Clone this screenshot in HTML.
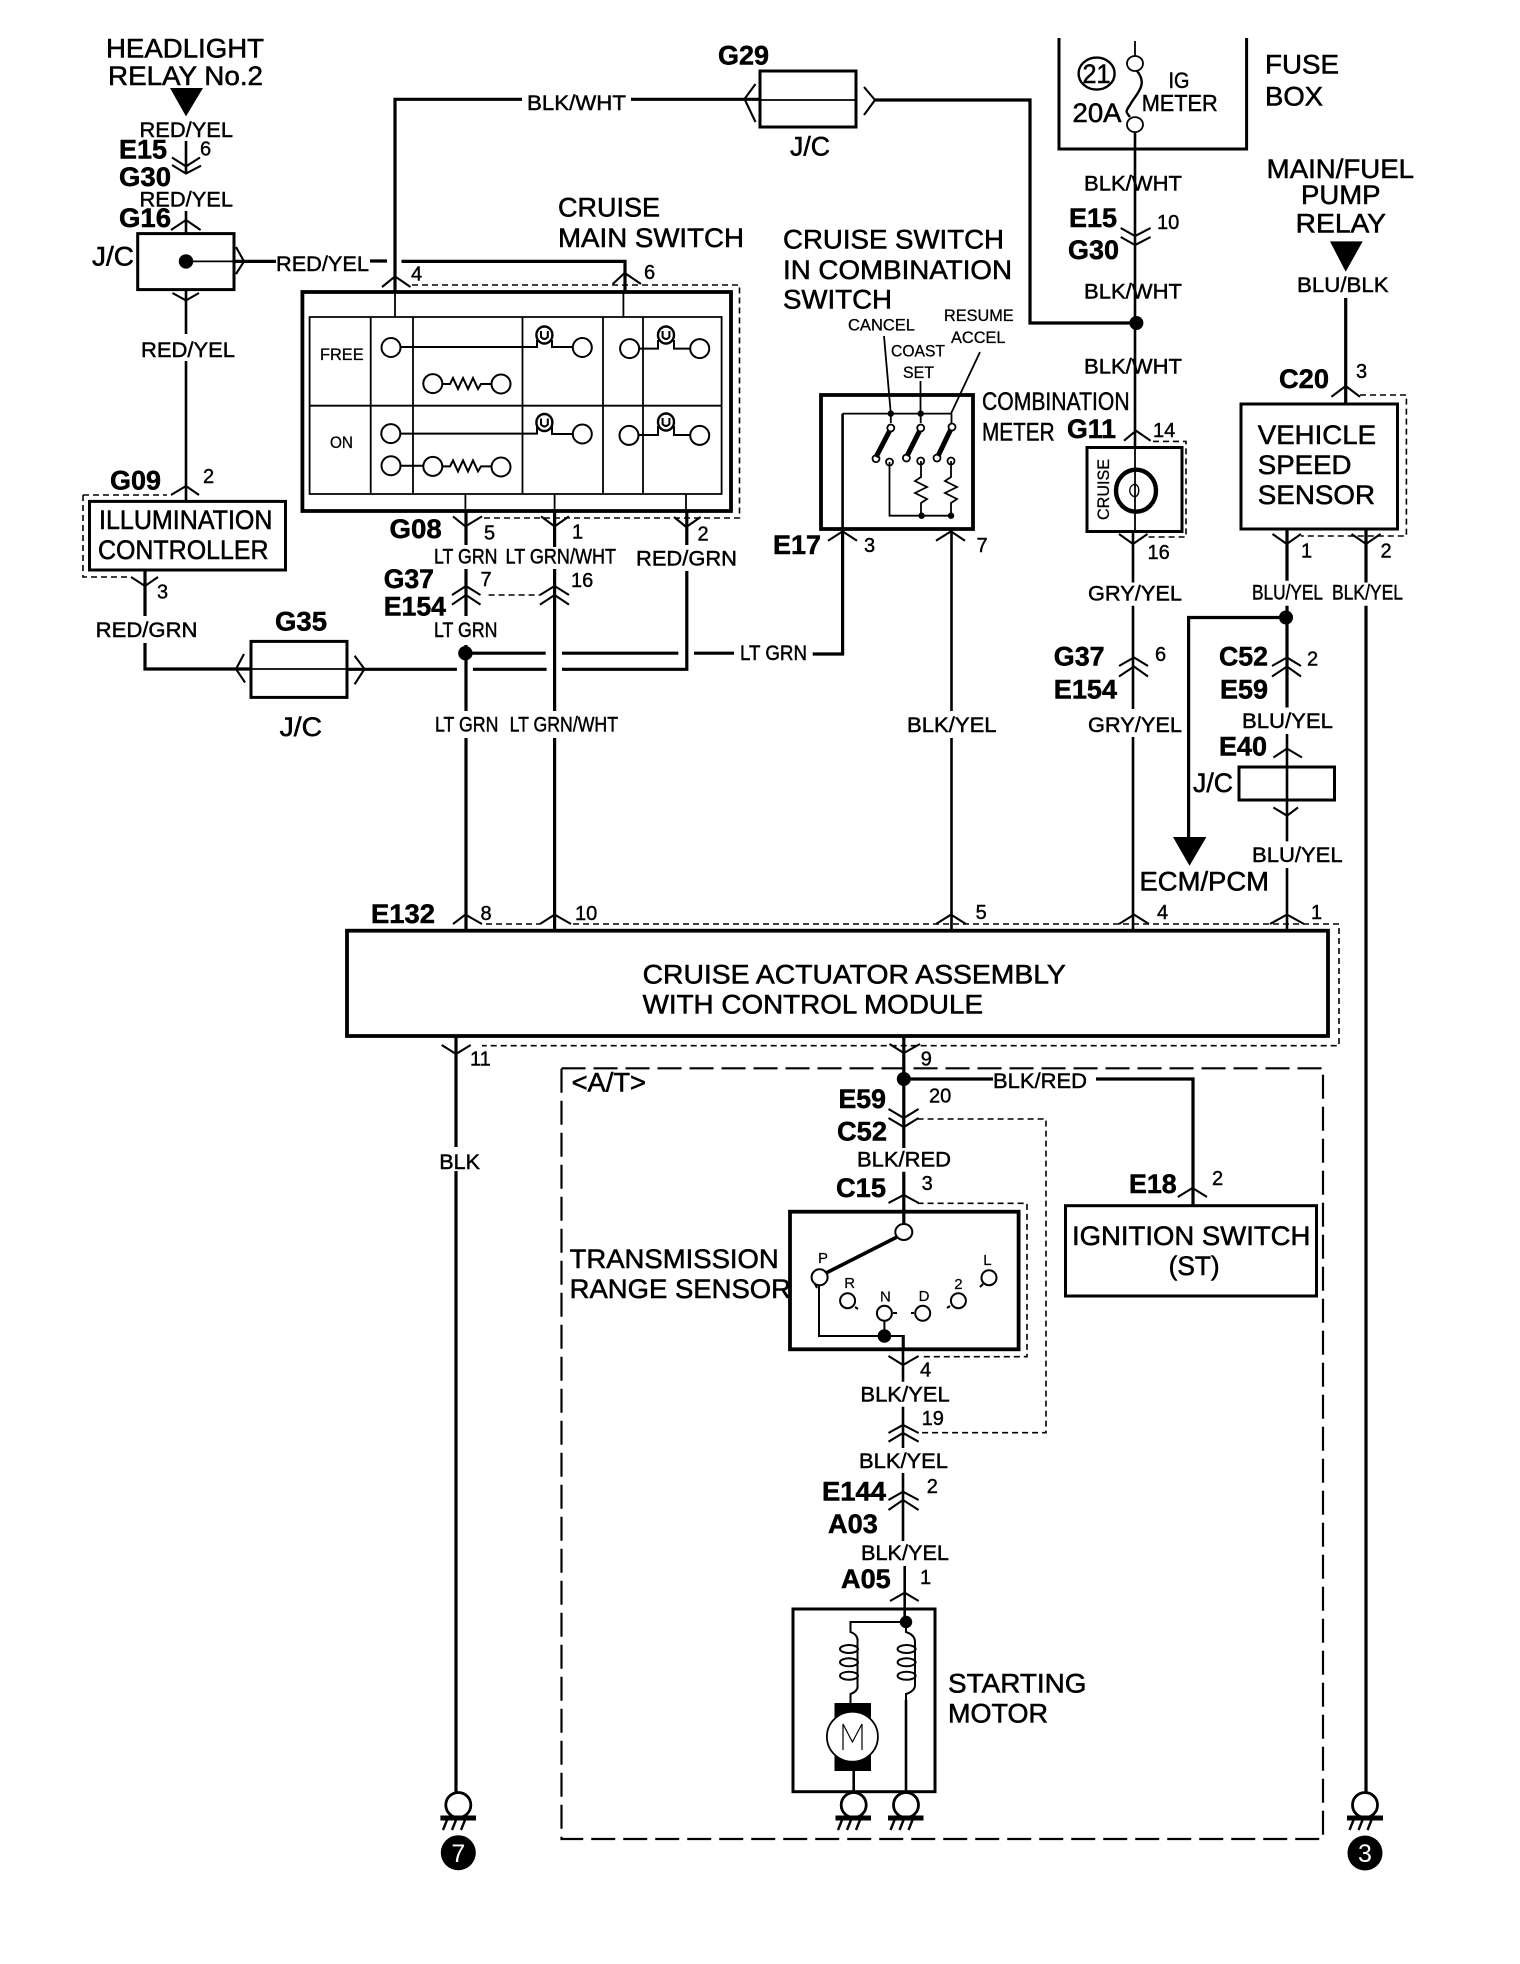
<!DOCTYPE html>
<html><head><meta charset="utf-8"><style>
html,body{margin:0;padding:0;background:#fff}
svg{display:block}
text{font-family:"Liberation Sans",sans-serif;fill:#000}
.l{font-size:27px;stroke:#000;stroke-width:.55}
.w{font-size:21px;stroke:#000;stroke-width:.45}
.b{font-size:27px;font-weight:bold;stroke:#000;stroke-width:.5}
.n{font-size:20px;stroke:#000;stroke-width:.4}
.s{font-size:17px;stroke:#000;stroke-width:.3}
.t{font-size:15px;stroke:#000;stroke-width:.2}
g{fill:none;stroke:#000}
</style></head><body>
<svg width="1520" height="1964" viewBox="0 0 1520 1964" xmlns="http://www.w3.org/2000/svg">
<rect width="1520" height="1964" fill="#fff"/>

<!-- dashed connector outlines -->
<g stroke-width="1.6" stroke-dasharray="6 4">
<path d="M412 285H739.5V518H482"/>
<path d="M83 495H167M83 495V577H131"/>
<path d="M1153 441.4H1186V537H1148"/>
<path d="M1360 395H1406.4V536H1301"/>
<path d="M486 924H540M573 924H1339V1045.7H482"/>
<path d="M488.6 595H540"/>
<path d="M917.6 1119H1046V1432.7H920"/>
<path d="M917.6 1203.3H1027V1356.7H920"/>
</g>
<g stroke-width="2.2" stroke-dasharray="24 8">
<path d="M561.5 1068.3H1323V1839H561.5Z"/>
</g>

<!-- heavy wires -->
<g stroke-width="3.2">
<path d="M395 292V99.3H522M631 99.3H760"/>
<path d="M875 100H1030V323H1136"/>
<path d="M234 261.4H276M370 261H387M401.5 261.4H625V292"/>
<path d="M466 511V545M466 569V616M466 645V711M466 738V931"/>
<path d="M554.6 511V547M554.6 569V711M554.6 738V931"/>
<path d="M686.8 511V545M686.8 571V669.3H562M546.6 669.3H473M457 669.3H347"/>
<path d="M251 669H145V643M145 570V616"/>
<path d="M466 653.2H545.7M562 653.2H678.3M694 653.2H734M812.7 654H842.6V531"/>
<path d="M1287 529V580.7M1287 605.7V707.5M1286 617.5H1188.6V840"/>
<path d="M1366 529V582.5M1366 605.7V1792"/>
<path d="M1345.7 298V404"/>
<path d="M456 1036V1147M456 1171V1792"/>
<path d="M903.8 1036V1148M903.8 1171.7V1225M903.8 1079H993M1096 1079H1193V1205"/>
</g>
<g stroke-width="2.6">
<path d="M186 141V174M186 211V234M186 290V334M186 361V501"/>
<path d="M1135 132V447M1133 531V582.5M1133 605.7V709M1133 737V931"/>
<path d="M951.5 531V711M951.5 738V931"/>
<path d="M1287 734V841.4M1287 868V931"/>
<path d="M903 1336V1381.7M903 1406.7V1448M903 1473V1541M904.7 1566V1608"/>
<path d="M842.6 413.6V531"/>
<path d="M904.7 1608V1622M853.7 1771V1793M906 1700V1793"/>
</g>

<!-- boxes -->
<g stroke-width="3">
<rect x="137.7" y="233.6" width="96.3" height="56"/>
<rect x="89.5" y="501.4" width="196" height="68.6"/>
<rect x="760" y="71" width="96" height="56"/>
<path d="M1059 38V149H1246.6V38"/>
<rect x="251" y="641.4" width="96" height="56"/>
<rect x="1087" y="447.5" width="95" height="84"/>
<rect x="1241" y="404" width="156.5" height="125"/>
<rect x="1239" y="767" width="95.5" height="33"/>
<rect x="1065.5" y="1205.7" width="251" height="90.3"/>
<rect x="793" y="1609" width="142" height="182.7"/>
</g>
<g stroke-width="3.8">
<rect x="302.4" y="292" width="428.6" height="219"/>
<rect x="821" y="395" width="152" height="134"/>
<rect x="347" y="930.7" width="981" height="105.3"/>
<rect x="790" y="1211.7" width="228.6" height="137.6"/>
</g>

<!-- thin internals -->
<g stroke-width="1.8">
<path d="M760 100H856M251 669H347M186 261.4H234"/>
<path d="M1135 41V56M1135 132V149"/>
<path d="M309.6 317H721.6V494H309.6ZM309.6 405.7H721.6M370.7 317V494M413 317V494M522.5 317V494M603 317V494M643 317V494"/>
<path d="M395 292V317M623.4 292V317M465.4 494V511M554.6 494V511M686 494V511"/>
<path d="M1135 447.5V531"/>
<path d="M842.6 413.6H951M884 336L890.8 413.6M920.5 381V413.6M980 352L951 413.6"/>
<path d="M889.5 462V515.7H951M921 461V477l-6 4 12 6-12 6 12 6-6 4V515.7M951 461V477l-6 4 12 6-12 6 12 6-6 4V515.7"/>
<path d="M890.8 413.6V423M920.7 413.6V423M951.5 413.6V423"/>
<ellipse cx="1135" cy="63.5" rx="8" ry="7.5"/>
<ellipse cx="1135" cy="124.6" rx="8" ry="7.5"/>
<path d="M1137 71C1149 85 1135 95 1130 105C1125 112 1126 112 1130 117" stroke-width="2.4"/>
<ellipse cx="1096.6" cy="73.6" rx="18" ry="16" stroke-width="2.4"/>
</g>

<!-- main switch contents -->
<g stroke-width="2">
<circle cx="391" cy="347.5" r="9.5"/><circle cx="582.3" cy="347.5" r="9.5"/>
<circle cx="629.6" cy="348.6" r="9.5"/><circle cx="699.7" cy="348.6" r="9.5"/>
<circle cx="432.8" cy="383.6" r="9.5"/><circle cx="501" cy="384" r="9.5"/>
<circle cx="390.8" cy="433.6" r="9.5"/><circle cx="582.3" cy="434" r="9.5"/>
<circle cx="629" cy="435.4" r="9.5"/><circle cx="699.7" cy="435.4" r="9.5"/>
<circle cx="391" cy="465.7" r="9.5"/><circle cx="432.8" cy="466.4" r="9.5"/><circle cx="501" cy="467" r="9.5"/>
<path d="M400.5 347H537V340M552 340V347H573M639 348.6H658V340M674 340V348.6H690"/>
<path d="M400.5 433.6H537V426M552 426V434H573M638.5 435H658V426M674 426V435H690"/>
<path d="M400.5 465.7H423.3M442.3 384H450l3-6 5 11 5-11 5 11 5-11 5 11 3-5H491.5M442.3 466.4H450l3-6 5 11 5-11 5 11 5-11 5 11 3-5H491.5"/>
<ellipse cx="544.4" cy="335" rx="8" ry="8.5" stroke-width="2.4"/><path d="M541 331v6q3.4 4 6.8 0v-6"/>
<ellipse cx="666" cy="335" rx="8" ry="8.5" stroke-width="2.4"/><path d="M662.6 331v6q3.4 4 6.8 0v-6"/>
<ellipse cx="544.4" cy="422.5" rx="8" ry="8.5" stroke-width="2.4"/><path d="M541 418.5v6q3.4 4 6.8 0v-6"/>
<ellipse cx="666" cy="422" rx="8" ry="8.5" stroke-width="2.4"/><path d="M662.6 418v6q3.4 4 6.8 0v-6"/>
</g>

<!-- combination switch contacts -->
<g stroke-width="1.8">
<circle cx="890.8" cy="428" r="3.5"/><circle cx="920.7" cy="428" r="3.5"/><circle cx="952" cy="427" r="3.5"/>
<circle cx="876" cy="458.6" r="3.5"/><circle cx="906.4" cy="458" r="3.5"/><circle cx="937" cy="458" r="3.5"/>
<circle cx="889.5" cy="462" r="3.5"/><circle cx="920.7" cy="461" r="3.5"/><circle cx="951" cy="461" r="3.5"/>
<path d="M889.5 431L876 457M919.5 431L907 456M950.5 430L938 456" stroke-width="5"/>
<ellipse cx="1136" cy="490.7" rx="20" ry="21" stroke-width="4.4"/>
<path d="M1135 484c-7 2-7 11 0 13c5-2 5-11 0-13" stroke-width="1.4"/>
</g>

<!-- transmission sensor -->
<g stroke-width="2">
<ellipse cx="903.8" cy="1232" rx="8.5" ry="8"/>
<ellipse cx="819.6" cy="1277.3" rx="8" ry="8"/>
<circle cx="847.6" cy="1300.7" r="7.5"/><circle cx="884.4" cy="1313.3" r="7.5"/><circle cx="922.7" cy="1313.3" r="7.5"/><circle cx="958.4" cy="1300.7" r="7.5"/><circle cx="989" cy="1277.7" r="7.5"/>
<path d="M897 1237L826 1273" stroke-width="3.6"/>
<path d="M819 1285V1336H903.8V1349M884.4 1321V1336M855 1307l3 2M893 1313h4M914 1313h-3M950 1306l-3 2M983 1284l-3 3M815 1284l2 4" />
<!-- starter -->
<path d="M906 1622H850.5V1632q8 3 7 10V1685q1 6-7 9V1703M906 1622V1632q9 3 9 10V1685q0 6-9 9V1700"/>
<ellipse cx="849" cy="1649" rx="9" ry="4"/><ellipse cx="849" cy="1662.3" rx="9" ry="4"/><ellipse cx="849" cy="1675.7" rx="9" ry="4"/>
<ellipse cx="906.6" cy="1649" rx="9" ry="4"/><ellipse cx="906.6" cy="1662.3" rx="9" ry="4"/><ellipse cx="906.6" cy="1675.7" rx="9" ry="4"/>
</g>
<rect x="834.5" y="1703" width="36.5" height="68" fill="#000"/>
<ellipse cx="852.4" cy="1736.7" rx="25.5" ry="25" fill="#fff" stroke="#000" stroke-width="1.8"/>
<g stroke-width="1.2"><path d="M843 1750V1724L852.4 1742L862 1724V1750"/></g>

<!-- chevrons -->
<g stroke-width="2.1">
<path d="M172 157.5L186 166.4L200 157.5M172 165L186 173.6L201 165.7"/>
<path d="M171 230L186 220L200.6 230M172.5 293L186 300.4L199 293"/>
<path d="M171 495L186 486L199 495M131 577L145 586L158 577"/>
<path d="M236 247L244 261.4L236 274"/>
<path d="M755.5 84L744.5 99L755.5 122M864 87L875 100L864 115M244 654L236 669L245 682.5M354.6 655.7L364.5 669L354.6 684.3"/>
<path d="M382 287L395 276.4L410.5 287M612.7 284L624.7 273L641 284"/>
<path d="M453 516.4L465.4 526.4L482 516.4M541 516.4L554.6 526.4L569 516.4M674 517L686.3 527L700.6 517"/>
<path d="M452 595L466 586L480.5 595M452 604.6L466 595L480.5 604.6M540 595L554.6 586L569 595M540 604.6L554.6 595L569 604.6"/>
<path d="M453 924L465.4 914.6L482 924M540 924L554.6 914.6L571 924M936 924L951 914.6L966 924M1119 924L1134 914.6L1149 924M1270 924L1287 914.6L1304 924"/>
<path d="M828 540.7L842.6 531.4L857 540.7M936 540.7L951 531.4L965 540.7"/>
<path d="M1120.7 228L1135 236L1150.6 228M1120.7 237L1135 245L1150.6 237"/>
<path d="M1124 440.7L1136 430.7L1150.6 440.7M1119 534L1133 544L1147.5 534"/>
<path d="M1331.4 396.8L1345.7 386L1360 396.8M1272.5 534L1286.8 544L1301 534M1351.5 534L1366 544L1380.5 534"/>
<path d="M1119 666L1134 657.5L1148 666M1119 676.5L1134 666.5L1148 676.5M1272 666L1287 657.5L1301 666M1272 676.5L1287 666.5L1301 676.5"/>
<path d="M1273.4 757.5L1287 748.6L1302 757.5M1273.4 807.5L1287 815.7L1298 807.5"/>
<path d="M441.7 1045L456 1054L470.7 1045M889.5 1044L903.8 1053L920 1044"/>
<path d="M888.5 1109L903.8 1118L918.6 1109M888.5 1118L903.8 1127L918.6 1118"/>
<path d="M888.5 1203L903.8 1195L918.6 1203M888.5 1356L903 1365L918.6 1356"/>
<path d="M888.5 1433L903 1425L918.6 1433M888.5 1441.7L903 1433L918.6 1441.7"/>
<path d="M888.5 1500L903 1491.7L918.6 1500M888.5 1510L903 1500L918.6 1510"/>
<path d="M890 1601L904.7 1592.7L918.7 1601M1177.8 1197L1192.5 1188L1207 1197"/>
</g>

<!-- grounds -->
<g stroke-width="2.8" fill="#fff">
<circle cx="458.3" cy="1805" r="12.5" fill="#fff"/><circle cx="853.7" cy="1805" r="12.5" fill="#fff"/><circle cx="906" cy="1805" r="12.5" fill="#fff"/><circle cx="1365" cy="1805" r="12.5" fill="#fff"/>
</g>
<g stroke-width="2.4">
<path d="M440.4 1818H476M835.5 1818H871M888 1818H923.5M1347 1818H1383" stroke-width="5"/>
<path d="M443 1830l4-10M452 1830l4-10M461 1830l4-10M838 1830l4-10M847 1830l4-10M856 1830l4-10M890.5 1830l4-10M899.5 1830l4-10M908.5 1830l4-10M1349.5 1830l4-10M1358.5 1830l4-10M1367.5 1830l4-10"/>
</g>

<!-- filled -->
<path d="M170 88H203L186 116.4ZM1330 241.4H1362.7L1345.7 271.8ZM1173 837H1206.4L1189.5 865.7Z" fill="#000"/>
<circle cx="186" cy="261.4" r="7.2" fill="#000"/>
<circle cx="1136.4" cy="323" r="7" fill="#000"/>
<circle cx="465.4" cy="653.2" r="7.2" fill="#000"/>
<circle cx="1286" cy="617.5" r="7" fill="#000"/>
<circle cx="903.8" cy="1079" r="7" fill="#000"/>
<circle cx="884.4" cy="1336" r="6.8" fill="#000"/>
<circle cx="906" cy="1622" r="6.2" fill="#000"/>
<circle cx="890.8" cy="413.6" r="3.2" fill="#000"/><circle cx="920.7" cy="413.6" r="3.2" fill="#000"/>
<circle cx="921.6" cy="515.7" r="3.2" fill="#000"/><circle cx="951" cy="515.7" r="3.2" fill="#000"/>
<circle cx="458.3" cy="1852.7" r="17.5" fill="#000"/>
<circle cx="1365" cy="1853" r="17.5" fill="#000"/>
<text x="458.3" y="1862" text-anchor="middle" font-size="25" style="fill:#fff">7</text>
<text x="1365" y="1862" text-anchor="middle" font-size="25" style="fill:#fff">3</text>

<!-- large labels -->
<text class="l" x="106" y="57.5" textLength="158" lengthAdjust="spacingAndGlyphs">HEADLIGHT</text>
<text class="l" x="108" y="85" textLength="155" lengthAdjust="spacingAndGlyphs">RELAY No.2</text>
<text class="l" x="92" y="265.7" textLength="42" lengthAdjust="spacingAndGlyphs">J/C</text>
<text class="l" x="558" y="216.4" textLength="102" lengthAdjust="spacingAndGlyphs">CRUISE</text>
<text class="l" x="558" y="247" textLength="186" lengthAdjust="spacingAndGlyphs">MAIN SWITCH</text>
<text class="l" x="99" y="529" textLength="173.5" lengthAdjust="spacingAndGlyphs">ILLUMINATION</text>
<text class="l" x="98" y="559" textLength="170.5" lengthAdjust="spacingAndGlyphs">CONTROLLER</text>
<text class="l" x="790" y="155.7" textLength="40" lengthAdjust="spacingAndGlyphs">J/C</text>
<text class="l" x="279.6" y="736" textLength="42.4" lengthAdjust="spacingAndGlyphs">J/C</text>
<text class="l" x="1193" y="792" textLength="40" lengthAdjust="spacingAndGlyphs">J/C</text>
<text class="l" x="1072.5" y="121.8" textLength="49" lengthAdjust="spacingAndGlyphs">20A</text>
<text class="l" x="1082.5" y="83" textLength="28" lengthAdjust="spacingAndGlyphs">21</text>
<text class="w" x="1168.5" y="88" textLength="21" lengthAdjust="spacingAndGlyphs" style="font-size:22px">IG</text>
<text class="w" x="1141.7" y="111" textLength="76" lengthAdjust="spacingAndGlyphs" style="font-size:23px">METER</text>
<text class="l" x="1265" y="73.6" textLength="74" lengthAdjust="spacingAndGlyphs">FUSE</text>
<text class="l" x="1265" y="105.7" textLength="58" lengthAdjust="spacingAndGlyphs">BOX</text>
<text class="l" x="1266.7" y="177.9" textLength="147.3" lengthAdjust="spacingAndGlyphs">MAIN/FUEL</text>
<text class="l" x="1301" y="204" textLength="79.5" lengthAdjust="spacingAndGlyphs">PUMP</text>
<text class="l" x="1295.7" y="232.5" textLength="90.3" lengthAdjust="spacingAndGlyphs">RELAY</text>
<text class="l" x="783" y="248.6" textLength="221" lengthAdjust="spacingAndGlyphs">CRUISE SWITCH</text>
<text class="l" x="783" y="279" textLength="229" lengthAdjust="spacingAndGlyphs">IN COMBINATION</text>
<text class="l" x="783" y="308.6" textLength="109" lengthAdjust="spacingAndGlyphs">SWITCH</text>
<text class="w" x="982" y="410" style="font-size:25px" textLength="147.6" lengthAdjust="spacingAndGlyphs">COMBINATION</text>
<text class="w" x="982" y="440.7" style="font-size:25px" textLength="72.6" lengthAdjust="spacingAndGlyphs">METER</text>
<text class="l" x="1257.8" y="444" textLength="118.2" lengthAdjust="spacingAndGlyphs">VEHICLE</text>
<text class="l" x="1257.8" y="474" textLength="93.7" lengthAdjust="spacingAndGlyphs">SPEED</text>
<text class="l" x="1257.8" y="504" textLength="117.2" lengthAdjust="spacingAndGlyphs">SENSOR</text>
<text class="l" x="642.6" y="983.6" textLength="423.2" lengthAdjust="spacingAndGlyphs">CRUISE ACTUATOR ASSEMBLY</text>
<text class="l" x="642.6" y="1013.6" textLength="340.4" lengthAdjust="spacingAndGlyphs">WITH CONTROL MODULE</text>
<text class="l" x="1139.5" y="890.7" textLength="129.5" lengthAdjust="spacingAndGlyphs">ECM/PCM</text>
<text class="l" x="571.6" y="1091.7" textLength="74.4" lengthAdjust="spacingAndGlyphs">&lt;A/T&gt;</text>
<text class="l" x="569.6" y="1268" textLength="209.2" lengthAdjust="spacingAndGlyphs">TRANSMISSION</text>
<text class="l" x="569.6" y="1298" textLength="221.4" lengthAdjust="spacingAndGlyphs">RANGE SENSOR</text>
<text class="l" x="1072" y="1245" textLength="238.4" lengthAdjust="spacingAndGlyphs">IGNITION SWITCH</text>
<text class="l" x="1168.6" y="1275" textLength="51" lengthAdjust="spacingAndGlyphs">(ST)</text>
<text class="l" x="948" y="1692.7" textLength="138.5" lengthAdjust="spacingAndGlyphs">STARTING</text>
<text class="l" x="948" y="1722.7" textLength="100" lengthAdjust="spacingAndGlyphs">MOTOR</text>

<!-- connector ids -->
<text class="b" x="119" y="158.6" textLength="48" lengthAdjust="spacingAndGlyphs">E15</text>
<text class="b" x="119" y="186" textLength="52" lengthAdjust="spacingAndGlyphs">G30</text>
<text class="b" x="119" y="227" textLength="52" lengthAdjust="spacingAndGlyphs">G16</text>
<text class="b" x="110" y="489.6" textLength="51" lengthAdjust="spacingAndGlyphs">G09</text>
<text class="b" x="718" y="64.6" textLength="51" lengthAdjust="spacingAndGlyphs">G29</text>
<text class="b" x="389.5" y="537.9" textLength="52.2" lengthAdjust="spacingAndGlyphs">G08</text>
<text class="b" x="383.7" y="587.9" textLength="50.3" lengthAdjust="spacingAndGlyphs">G37</text>
<text class="b" x="383.7" y="615.7" textLength="62.3" lengthAdjust="spacingAndGlyphs">E154</text>
<text class="b" x="275" y="630.7" textLength="52" lengthAdjust="spacingAndGlyphs">G35</text>
<text class="b" x="371" y="923" textLength="64" lengthAdjust="spacingAndGlyphs">E132</text>
<text class="b" x="1069" y="227" textLength="48" lengthAdjust="spacingAndGlyphs">E15</text>
<text class="b" x="1068" y="259" textLength="51" lengthAdjust="spacingAndGlyphs">G30</text>
<text class="b" x="1067" y="437.9" textLength="49" lengthAdjust="spacingAndGlyphs">G11</text>
<text class="b" x="1279" y="388" textLength="50" lengthAdjust="spacingAndGlyphs">C20</text>
<text class="b" x="773" y="554" textLength="48" lengthAdjust="spacingAndGlyphs">E17</text>
<text class="b" x="1053.8" y="665.7" textLength="50.8" lengthAdjust="spacingAndGlyphs">G37</text>
<text class="b" x="1053.8" y="698.6" textLength="63.2" lengthAdjust="spacingAndGlyphs">E154</text>
<text class="b" x="1219" y="665.7" textLength="49" lengthAdjust="spacingAndGlyphs">C52</text>
<text class="b" x="1220" y="698.6" textLength="48" lengthAdjust="spacingAndGlyphs">E59</text>
<text class="b" x="1219" y="755.7" textLength="48" lengthAdjust="spacingAndGlyphs">E40</text>
<text class="b" x="838.5" y="1108" textLength="47.5" lengthAdjust="spacingAndGlyphs">E59</text>
<text class="b" x="837" y="1140.7" textLength="50" lengthAdjust="spacingAndGlyphs">C52</text>
<text class="b" x="836" y="1197" textLength="50" lengthAdjust="spacingAndGlyphs">C15</text>
<text class="b" x="1129" y="1193" textLength="47.7" lengthAdjust="spacingAndGlyphs">E18</text>
<text class="b" x="822" y="1500.7" textLength="64" lengthAdjust="spacingAndGlyphs">E144</text>
<text class="b" x="828" y="1533" textLength="49.8" lengthAdjust="spacingAndGlyphs">A03</text>
<text class="b" x="841" y="1588" textLength="49.7" lengthAdjust="spacingAndGlyphs">A05</text>

<!-- wire labels -->
<text class="w" x="139.5" y="136.8" textLength="93.5" lengthAdjust="spacingAndGlyphs">RED/YEL</text>
<text class="w" x="139.5" y="206.4" textLength="93.5" lengthAdjust="spacingAndGlyphs">RED/YEL</text>
<text class="w" x="141" y="357" textLength="94" lengthAdjust="spacingAndGlyphs">RED/YEL</text>
<text class="w" x="276" y="271" textLength="93" lengthAdjust="spacingAndGlyphs">RED/YEL</text>
<text class="w" x="527" y="110" textLength="99" lengthAdjust="spacingAndGlyphs">BLK/WHT</text>
<text class="w" x="434" y="563.6" textLength="63.5" lengthAdjust="spacingAndGlyphs">LT GRN</text>
<text class="w" x="505.5" y="563.6" textLength="110.5" lengthAdjust="spacingAndGlyphs">LT GRN/WHT</text>
<text class="w" x="636" y="565.7" textLength="101" lengthAdjust="spacingAndGlyphs">RED/GRN</text>
<text class="w" x="434" y="637" textLength="63.5" lengthAdjust="spacingAndGlyphs">LT GRN</text>
<text class="w" x="95.7" y="637" textLength="101.8" lengthAdjust="spacingAndGlyphs">RED/GRN</text>
<text class="w" x="435" y="731.4" textLength="63.4" lengthAdjust="spacingAndGlyphs">LT GRN</text>
<text class="w" x="509.6" y="731.4" textLength="108.4" lengthAdjust="spacingAndGlyphs">LT GRN/WHT</text>
<text class="w" x="740" y="660" textLength="67" lengthAdjust="spacingAndGlyphs">LT GRN</text>
<text class="w" x="907" y="731.8" textLength="89.6" lengthAdjust="spacingAndGlyphs">BLK/YEL</text>
<text class="w" x="1084" y="190.7" textLength="98" lengthAdjust="spacingAndGlyphs">BLK/WHT</text>
<text class="w" x="1084" y="298.6" textLength="98" lengthAdjust="spacingAndGlyphs">BLK/WHT</text>
<text class="w" x="1084" y="373.6" textLength="98" lengthAdjust="spacingAndGlyphs">BLK/WHT</text>
<text class="w" x="1297" y="292" textLength="91.6" lengthAdjust="spacingAndGlyphs">BLU/BLK</text>
<text class="w" x="1088" y="600.4" textLength="94" lengthAdjust="spacingAndGlyphs">GRY/YEL</text>
<text class="w" x="1088" y="731.8" textLength="94" lengthAdjust="spacingAndGlyphs">GRY/YEL</text>
<text class="w" x="1252" y="599.3" textLength="71" lengthAdjust="spacingAndGlyphs">BLU/YEL</text>
<text class="w" x="1332" y="599.3" textLength="71" lengthAdjust="spacingAndGlyphs">BLK/YEL</text>
<text class="w" x="1242" y="728" textLength="91" lengthAdjust="spacingAndGlyphs">BLU/YEL</text>
<text class="w" x="1252" y="862" textLength="90.6" lengthAdjust="spacingAndGlyphs">BLU/YEL</text>
<text class="w" x="439.3" y="1169" textLength="40.7" lengthAdjust="spacingAndGlyphs">BLK</text>
<text class="w" x="993" y="1088" textLength="94" lengthAdjust="spacingAndGlyphs">BLK/RED</text>
<text class="w" x="857" y="1166.7" textLength="94" lengthAdjust="spacingAndGlyphs">BLK/RED</text>
<text class="w" x="860.4" y="1401.7" textLength="89.3" lengthAdjust="spacingAndGlyphs">BLK/YEL</text>
<text class="w" x="859" y="1468" textLength="89" lengthAdjust="spacingAndGlyphs">BLK/YEL</text>
<text class="w" x="861" y="1560" textLength="88" lengthAdjust="spacingAndGlyphs">BLK/YEL</text>

<!-- small labels -->
<text class="s" x="320" y="360" textLength="43.6" lengthAdjust="spacingAndGlyphs">FREE</text>
<text class="s" x="330" y="447.9" textLength="23" lengthAdjust="spacingAndGlyphs">ON</text>
<text class="s" x="848" y="330.7" textLength="67" lengthAdjust="spacingAndGlyphs">CANCEL</text>
<text class="s" x="891" y="356.4" textLength="54" lengthAdjust="spacingAndGlyphs">COAST</text>
<text class="s" x="903" y="378" textLength="31" lengthAdjust="spacingAndGlyphs">SET</text>
<text class="s" x="944" y="321" textLength="69.6" lengthAdjust="spacingAndGlyphs">RESUME</text>
<text class="s" x="951" y="343" textLength="54.5" lengthAdjust="spacingAndGlyphs">ACCEL</text>
<text class="s" transform="translate(1109 520) rotate(-90)" textLength="61" lengthAdjust="spacingAndGlyphs">CRUISE</text>
<text class="t" x="823" y="1263" text-anchor="middle">P</text>
<text class="t" x="849.7" y="1288" text-anchor="middle">R</text>
<text class="t" x="885.4" y="1301.7" text-anchor="middle">N</text>
<text class="t" x="924" y="1301" text-anchor="middle">D</text>
<text class="t" x="958.4" y="1289" text-anchor="middle">2</text>
<text class="t" x="987.4" y="1265" text-anchor="middle">L</text>

<!-- pin numbers -->
<text class="n" x="200" y="155.7">6</text>
<text class="n" x="203" y="483">2</text>
<text class="n" x="157" y="598.6">3</text>
<text class="n" x="411" y="280.7">4</text>
<text class="n" x="644" y="279">6</text>
<text class="n" x="484" y="539.6">5</text>
<text class="n" x="572" y="538.6">1</text>
<text class="n" x="697.5" y="540.7">2</text>
<text class="n" x="480.5" y="586">7</text>
<text class="n" x="571" y="586.8">16</text>
<text class="n" x="480.5" y="920">8</text>
<text class="n" x="575" y="920">10</text>
<text class="n" x="470" y="1065.7">11</text>
<text class="n" x="1157" y="229">10</text>
<text class="n" x="1153" y="437">14</text>
<text class="n" x="1147.5" y="559">16</text>
<text class="n" x="1356" y="378">3</text>
<text class="n" x="1301" y="557.5">1</text>
<text class="n" x="1380.5" y="557.5">2</text>
<text class="n" x="864" y="552">3</text>
<text class="n" x="976.5" y="552">7</text>
<text class="n" x="1155" y="661">6</text>
<text class="n" x="1307" y="665.7">2</text>
<text class="n" x="975.6" y="919">5</text>
<text class="n" x="1157" y="919">4</text>
<text class="n" x="1311" y="919">1</text>
<text class="n" x="920.7" y="1065.7">9</text>
<text class="n" x="929" y="1102.7">20</text>
<text class="n" x="921.6" y="1190">3</text>
<text class="n" x="920" y="1376.7">4</text>
<text class="n" x="921.6" y="1425">19</text>
<text class="n" x="926.7" y="1493">2</text>
<text class="n" x="1212" y="1185">2</text>
<text class="n" x="920" y="1584">1</text>
</svg>
</body></html>
